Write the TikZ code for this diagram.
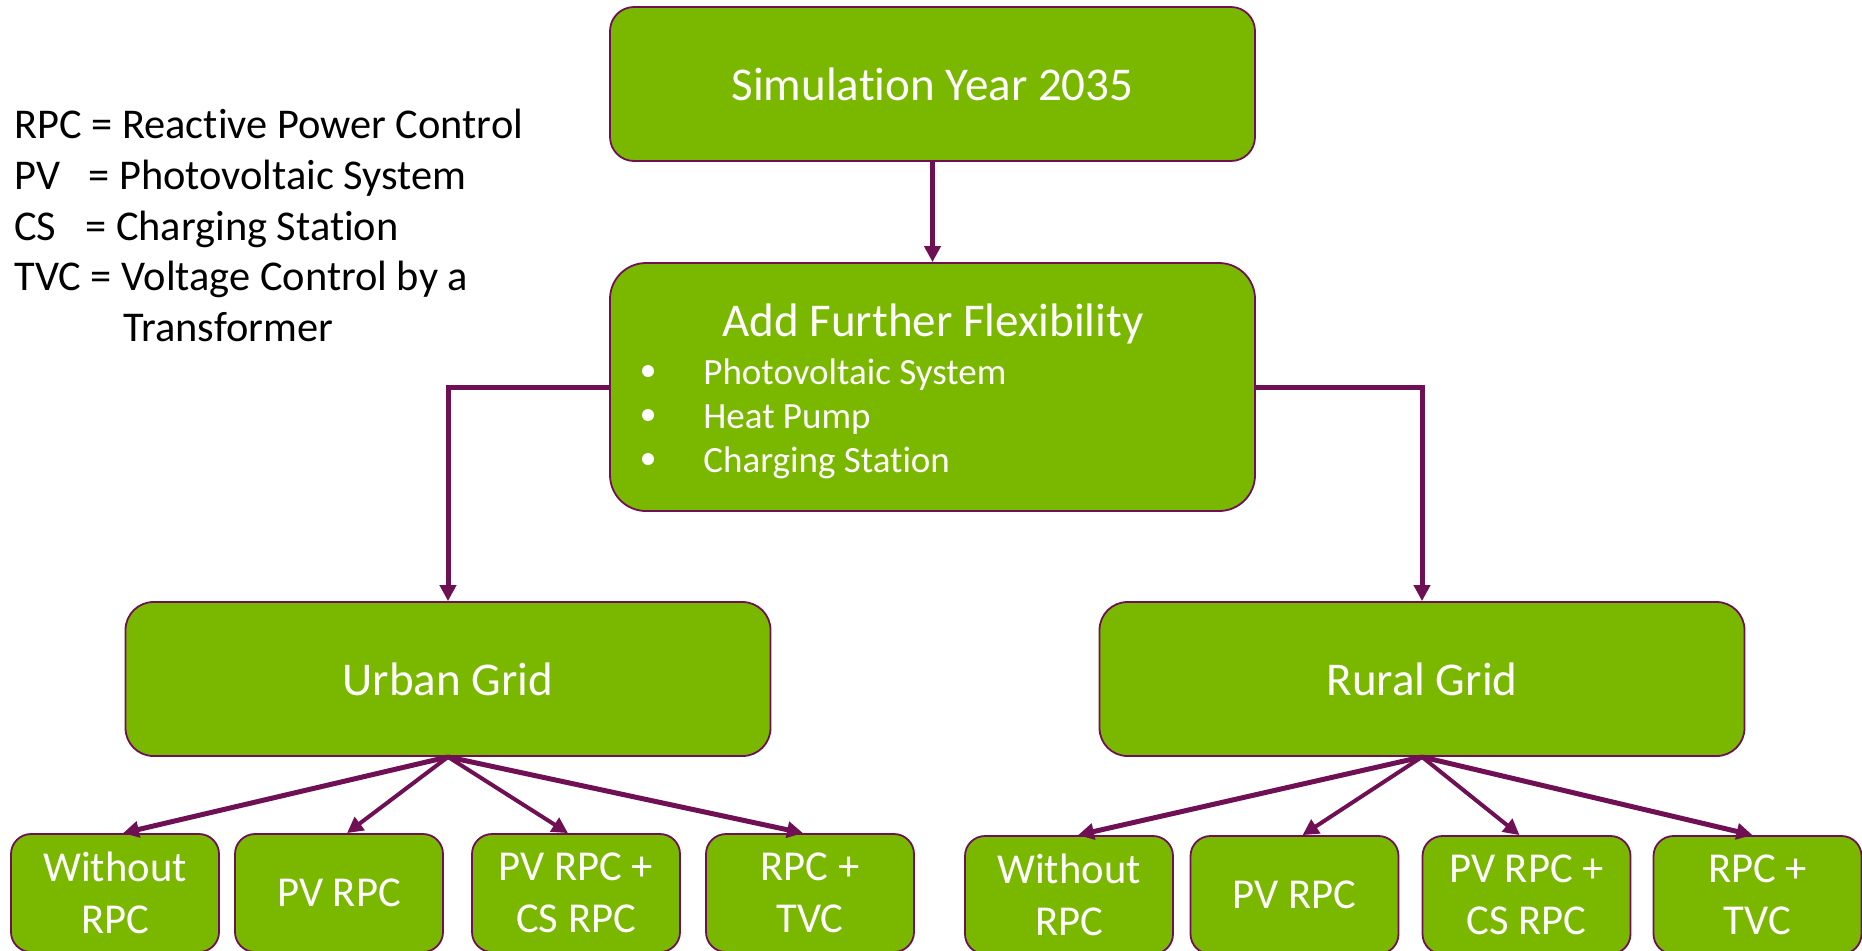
\documentclass[tikz,border=0pt]{standalone}
\usepackage{fontspec}
\setmainfont{Carlito}[RawFeature={-liga;-clig;-dlig;-calt}]
\usetikzlibrary{arrows.meta}
\definecolor{boxgreen}{RGB}{122,184,0}
\definecolor{linepurple}{RGB}{112,16,84}
\begin{document}
\begin{tikzpicture}[x=0.5pt,y=-0.5pt,
  box/.style={draw=linepurple, line width=0.9pt, fill=boxgreen, text=white, inner sep=0pt},
  bigbox/.style={box, rounded corners=12pt, minimum width=322.5pt, minimum height=77pt, font=\fontsize{23.5}{28}\selectfont},
  leaf/.style={box, rounded corners=10pt, minimum width=104pt, minimum height=59pt, align=center, font=\fontsize{21.3}{26}\selectfont},
  conn/.style={draw=linepurple, line width=2.5pt, -{Triangle[length=8pt,width=8pt]}},
  thinconn/.style={conn, line width=2pt},
  legend/.style={anchor=base west, font=\fontsize{21.2}{26}\selectfont, inner sep=0pt},
  bul/.style={anchor=base west, text=white, font=\fontsize{18.5}{22}\selectfont, inner sep=0pt}]
\useasboundingbox (0,0) rectangle (1862,950);

% legend
\node[legend] (l1) at (14,138) {RPC = Reactive Power Control};
\node[legend] (l2a) at (14,189) {PV};
\node[legend] (l2b) at (88,189) {= Photovoltaic System};
\node[legend] (l3a) at (14,240) {CS};
\node[legend] (l3b) at (85,240) {= Charging Station};
\node[legend] (l4) at (14,290) {TVC = Voltage Control by a};
\node[legend] (l5) at (123,341) {Transformer};

% main boxes
\node[bigbox] (top) at (932.5,84) {Simulation Year 2035};
\node[bigbox, rounded corners=18pt, minimum height=124pt] (flex) at (932.5,387) {};
\node[anchor=base, text=white, inner sep=0pt, font=\fontsize{23.5}{28}\selectfont] (flextitle) at (933,336) {Add Further Flexibility};
\fill[white] (648,371) circle[radius=3pt];
\fill[white] (648,415) circle[radius=3pt];
\fill[white] (648,459) circle[radius=3pt];
\node[bul] (b1) at (703,384) {Photovoltaic System};
\node[bul] (b2) at (703,428) {Heat Pump};
\node[bul] (b3) at (703,472) {Charging Station};

\node[bigbox, rounded corners=14pt] (urban) at (448,679) {Urban Grid};
\node[bigbox, rounded corners=14pt] (rural) at (1422,679) {Rural Grid};

% leaves
\node[leaf] (u1) at (115,893) {Without\\RPC};
\node[leaf] (u2) at (339,893) {PV RPC};
\node[leaf] (u3) at (576,893) {PV RPC +\\CS RPC};
\node[leaf] (u4) at (810,893) {RPC +\\TVC};
\node[leaf] (r1) at (1069,895) {Without\\RPC};
\node[leaf] (r2) at (1294.5,895) {PV RPC};
\node[leaf] (r3) at (1526.5,895) {PV RPC +\\CS RPC};
\node[leaf] (r4) at (1757.5,895) {RPC +\\TVC};

% connectors
\draw[conn] (top.south) -- (flex.north);
\draw[conn] (flex.west) -| (urban.north);
\draw[conn] (flex.east) -| (rural.north);
\draw[conn] (urban.south) -- ([xshift=4pt]u1.north);
\draw[thinconn] (urban.south) -- ([xshift=4pt]u2.north);
\draw[thinconn] (urban.south) -- ([xshift=-4pt]u3.north);
\draw[conn] (urban.south) -- ([xshift=-3.5pt]u4.north);
\draw[conn] (rural.south) -- ([xshift=4.5pt]r1.north);
\draw[thinconn] (rural.south) -- ([xshift=4pt]r2.north);
\draw[thinconn] (rural.south) -- ([xshift=-3.5pt]r3.north);
\draw[conn] (rural.south) -- ([xshift=-2.5pt]r4.north);
\end{tikzpicture}
\end{document}
